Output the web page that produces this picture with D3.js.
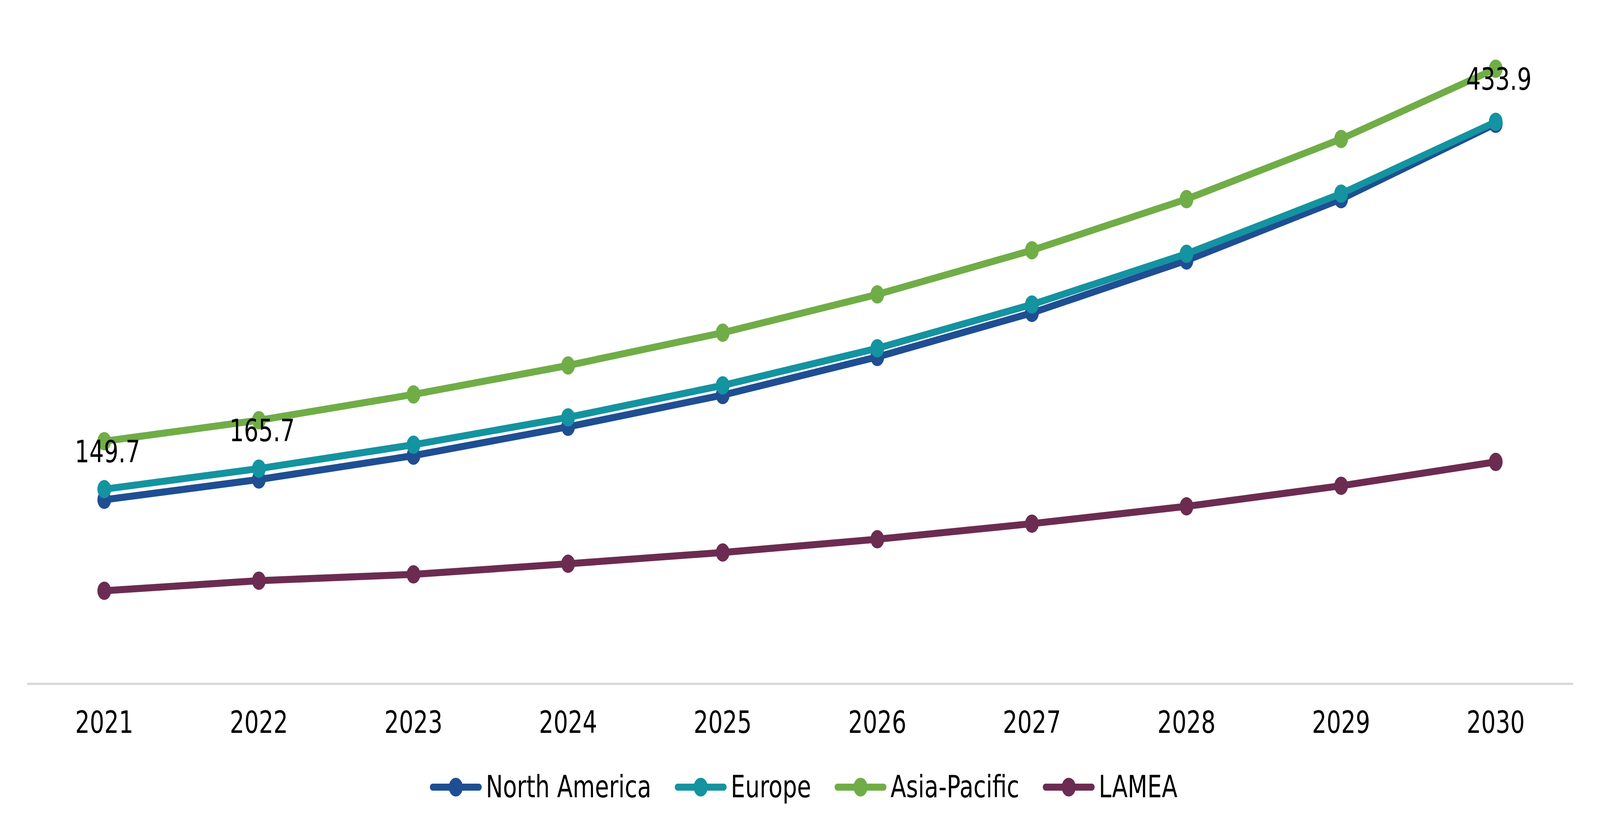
<!DOCTYPE html>
<html>
<head>
<meta charset="utf-8">
<script src="https://cdn.jsdelivr.net/npm/d3@7"></script>
<style>
  html, body { margin: 0; padding: 0; background: #ffffff; width: 100%; height: 100%; overflow: hidden; }
  svg { display: block; width: 100vw; height: 100vh; }
</style>
</head>
<body>
<svg id="chart" viewBox="0 0 5459 2136" preserveAspectRatio="none"></svg>
<script>
// ---- data ----
const years = ["2021", "2022", "2023", "2024", "2025", "2026", "2027", "2028", "2029", "2030"];
const seriesNames = ["North America", "Europe", "Asia-Pacific", "LAMEA"];
const northAmerica = [105.0, 120.5, 138.7, 160.7, 184.9, 214.0, 247.6, 287.6, 334.4, 391.9];
const europe       = [113.1, 128.8, 147.0, 167.9, 192.3, 220.6, 254.0, 292.7, 338.6, 393.4];
const asiaPacific  = [149.7, 165.7, 185.4, 207.5, 232.5, 261.7, 295.4, 334.4, 380.3, 433.9];
const lamea        = [35.6, 43.3, 48.1, 56.2, 64.8, 74.9, 86.8, 100.0, 115.7, 133.9];
const seriesColors = ["#1F4E93", "#1493A0", "#70AD47", "#6C2C51"];
// labelled points: [series index, year index]
const labelPoints = [[2, 0], [2, 1], [2, 9]];
const yDomain = [-35.3, 450];

const seriesValues = [northAmerica, europe, asiaPacific, lamea];

// ---- layout ----
const W = 5459, H = 2136;
const plotLeft = 92, plotRight = 5367, plotBottom = 1751, plotTop = 122;
const fontFamily = "'DejaVu Sans', Verdana, sans-serif";
const fontSize = 78;

const svg = d3.select("#chart");
svg.append("rect").attr("width", W).attr("height", H).attr("fill", "#ffffff");

const x = d3.scaleBand().domain(years).range([plotLeft, plotRight]).padding(0);
const xc = d => x(d) + x.bandwidth() / 2;
const y = d3.scaleLinear().domain(yDomain).range([plotBottom, plotTop]);

// axis
const axis = svg.append("g")
  .attr("transform", `translate(0,${plotBottom})`)
  .call(d3.axisBottom(x).tickSize(0).tickSizeOuter(0));
axis.select(".domain").attr("stroke", "#D9D9D9").attr("stroke-width", 6);
axis.selectAll(".tick line").remove();
axis.selectAll(".tick text")
  .attr("y", 126).attr("dy", null)
  .attr("fill", "#000000")
  .style("font-family", fontFamily)
  .style("font-size", fontSize + "px");

// lines + markers
const line = d3.line().x((d, i) => xc(years[i])).y(d => y(d));
seriesValues.forEach((vals, si) => {
  const g = svg.append("g");
  g.append("path")
    .datum(vals)
    .attr("d", line)
    .attr("fill", "none")
    .attr("stroke", seriesColors[si])
    .attr("stroke-width", 18)
    .attr("stroke-linejoin", "round");
  g.selectAll("circle")
    .data(vals)
    .enter().append("circle")
    .attr("cx", (d, i) => xc(years[i]))
    .attr("cy", d => y(d))
    .attr("r", 23.5)
    .attr("fill", seriesColors[si]);
});

// data labels
svg.append("g").selectAll("text")
  .data(labelPoints)
  .enter().append("text")
  .attr("x", d => xc(years[d[1]]) + 11)
  .attr("y", d => y(seriesValues[d[0]][d[1]]) + 54)
  .attr("text-anchor", "middle")
  .attr("fill", "#000000")
  .style("font-family", fontFamily)
  .style("font-size", fontSize + "px")
  .text(d => seriesValues[d[0]][d[1]].toFixed(1));

// legend
const legendY = 2016;
const lineLen = 177, textGap = 14, itemGap = 80, legendCenter = 2742;
const legend = svg.append("g");
const items = seriesNames.map((name, i) => {
  const g = legend.append("g");
  g.append("line")
    .attr("x1", 9).attr("x2", lineLen - 9)
    .attr("y1", legendY).attr("y2", legendY)
    .attr("stroke", seriesColors[i])
    .attr("stroke-width", 18)
    .attr("stroke-linecap", "round");
  g.append("circle")
    .attr("cx", lineLen / 2).attr("cy", legendY)
    .attr("r", 24).attr("fill", seriesColors[i]);
  const t = g.append("text")
    .attr("x", lineLen + textGap)
    .attr("y", legendY + 26)
    .attr("fill", "#000000")
    .style("font-family", fontFamily)
    .style("font-size", fontSize + "px")
    .text(name);
  const w = lineLen + textGap + t.node().getComputedTextLength();
  return { g, w };
});
const total = d3.sum(items, d => d.w) + itemGap * (items.length - 1);
let cur = legendCenter - total / 2;
items.forEach(it => {
  it.g.attr("transform", `translate(${cur},0)`);
  cur += it.w + itemGap;
});
</script>
</body>
</html>
